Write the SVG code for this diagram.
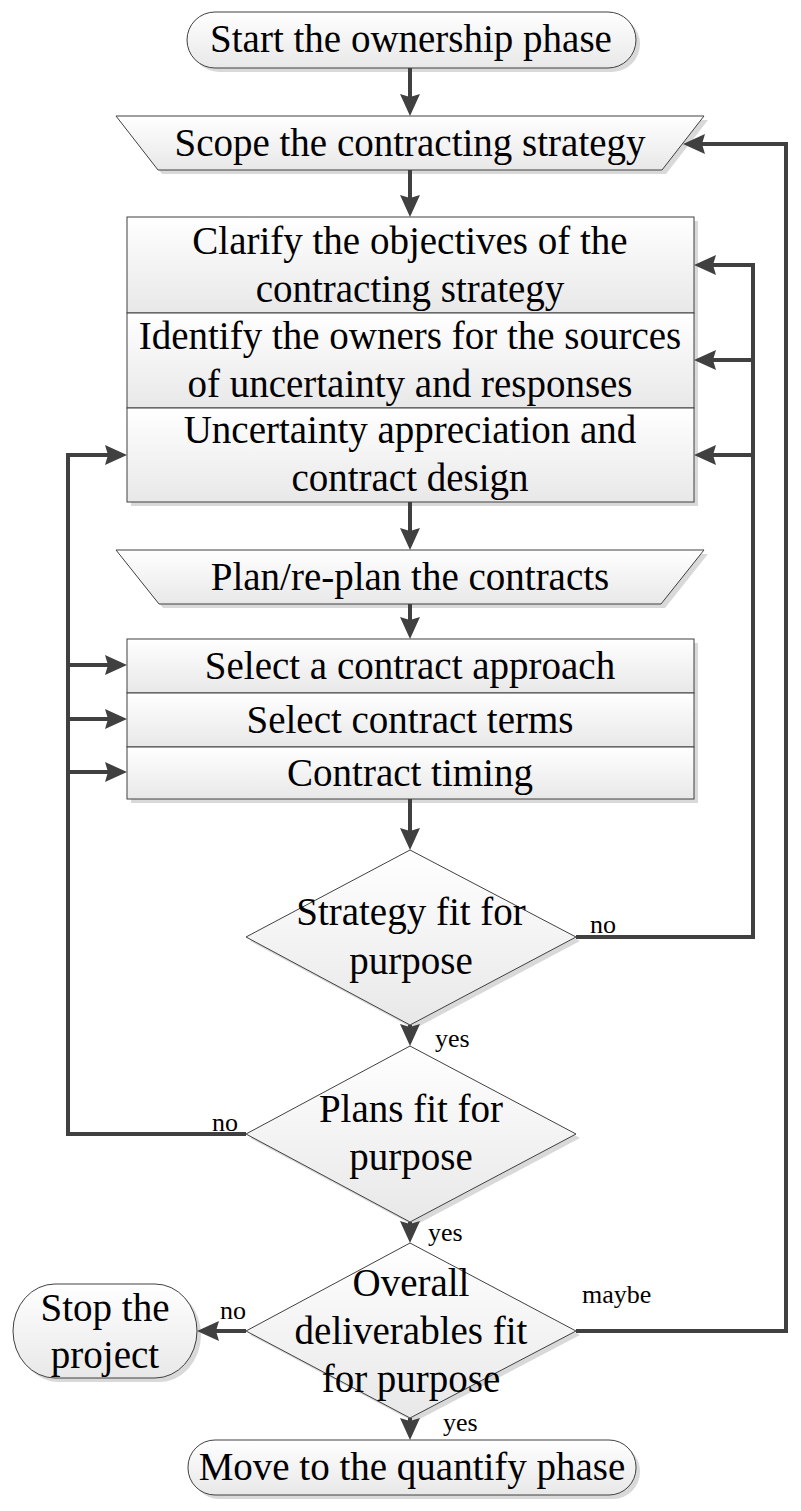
<svg xmlns="http://www.w3.org/2000/svg" width="801" height="1511" viewBox="0 0 801 1511">
<defs>
<linearGradient id="g" x1="0" y1="0" x2="0" y2="1">
<stop offset="0" stop-color="#ffffff"/>
<stop offset="1" stop-color="#e8e8e8"/>
</linearGradient>
<marker id="ah" viewBox="0 0 22 20" refX="12" refY="10" markerWidth="22" markerHeight="20" markerUnits="userSpaceOnUse" orient="auto">
<path d="M0,0 L22,10 L0,20 L3,10 Z" fill="#404040"/>
</marker>
</defs>
<style>
.sh{fill:#d9d9d9;stroke:none}
.nd{fill:url(#g);stroke:#404040;stroke-width:1}
.t{font-family:"Liberation Serif","Times New Roman",serif;font-size:39px;fill:#000;text-anchor:middle}
.l{font-family:"Liberation Serif","Times New Roman",serif;font-size:26px;fill:#000}
.c{fill:none;stroke:#404040;stroke-width:4;stroke-linejoin:miter}
.a{marker-end:url(#ah)}
</style>
<rect width="801" height="1511" fill="#ffffff"/>

<g id="start">
<rect class="sh" x="191" y="16" width="449" height="56" rx="28"/>
<rect class="nd" x="187" y="12" width="449" height="56" rx="28"/>
<text class="t" x="411" y="52">Start the ownership phase</text>
</g>

<g id="scope">
<polygon class="sh" points="120,120 708,120 666,174 162,174"/>
<polygon class="nd" points="116,116 704,116 662,170 158,170"/>
<text class="t" x="410" y="156">Scope the contracting strategy</text>
</g>

<g id="strategy">
<rect class="sh" x="131" y="221" width="567" height="285"/>
<rect class="nd" x="127" y="217" width="567" height="96"/>
<rect class="nd" x="127" y="313" width="567" height="95"/>
<rect class="nd" x="127" y="408" width="567" height="94"/>
<text class="t" x="410" y="254">Clarify the objectives of the</text>
<text class="t" x="410" y="302">contracting strategy</text>
<text class="t" x="410" y="349">Identify the owners for the sources</text>
<text class="t" x="410" y="397">of uncertainty and responses</text>
<text class="t" x="410" y="443">Uncertainty appreciation and</text>
<text class="t" x="410" y="491">contract design</text>
</g>

<g id="plan">
<polygon class="sh" points="120,554 708,554 665,608 163,608"/>
<polygon class="nd" points="116,550 704,550 661,604 159,604"/>
<text class="t" x="410" y="590">Plan/re-plan the contracts</text>
</g>

<g id="contracts">
<rect class="sh" x="131" y="643" width="567" height="160"/>
<rect class="nd" x="127" y="639" width="567" height="54"/>
<rect class="nd" x="127" y="693" width="567" height="54"/>
<rect class="nd" x="127" y="747" width="567" height="52"/>
<text class="t" x="410" y="679">Select a contract approach</text>
<text class="t" x="410" y="733">Select contract terms</text>
<text class="t" x="410" y="786">Contract timing</text>
</g>

<g id="strategyfit">
<polygon class="sh" points="414,854 580,941 414,1029 250,941"/>
<polygon class="nd" points="410,850 576,937 410,1025 246,937"/>
<text class="t" x="411" y="925">Strategy fit for</text>
<text class="t" x="411" y="974">purpose</text>
</g>

<g id="plansfit">
<polygon class="sh" points="414,1050 580,1138 414,1226 250,1138"/>
<polygon class="nd" points="410,1046 576,1134 410,1222 246,1134"/>
<text class="t" x="411" y="1122">Plans fit for</text>
<text class="t" x="411" y="1170">purpose</text>
</g>

<g id="overallfit">
<polygon class="sh" points="414,1247 580,1335 414,1422 250,1335"/>
<polygon class="nd" points="410,1243 576,1331 410,1418 246,1331"/>
<text class="t" x="411" y="1296">Overall</text>
<text class="t" x="411" y="1344">deliverables fit</text>
<text class="t" x="411" y="1392">for purpose</text>
</g>

<g id="stop">
<rect class="sh" x="17" y="1288" width="184" height="94" rx="42" ry="47"/>
<rect class="nd" x="13" y="1284" width="184" height="94" rx="42" ry="47"/>
<text class="t" x="105" y="1321">Stop the</text>
<text class="t" x="105" y="1368">project</text>
</g>

<g id="end">
<rect class="sh" x="192" y="1444" width="448" height="55" rx="27"/>
<rect class="nd" x="188" y="1440" width="448" height="55" rx="27"/>
<text class="t" x="412" y="1480">Move to the quantify phase</text>
</g>

<g id="connectors">
<path class="c a" d="M410,68 V106"/>
<path class="c a" d="M410,170 V207"/>
<path class="c a" d="M410,502 V540"/>
<path class="c a" d="M410,604 V629"/>
<path class="c a" d="M410,799 V840"/>
<path class="c a" d="M410,1025 V1036"/>
<path class="c a" d="M410,1222 V1233"/>
<path class="c a" d="M410,1418 V1430"/>
<path class="c a" d="M576,1331 H786 V144 H693"/>
<path class="c a" d="M576,937 H753 V265 H704"/>
<path class="c a" d="M753,360 H704"/>
<path class="c a" d="M753,455 H704"/>
<path class="c a" d="M246,1134 H68 V455 H117"/>
<path class="c a" d="M68,665 H117"/>
<path class="c a" d="M68,719 H117"/>
<path class="c a" d="M68,772 H117"/>
<path class="c a" d="M246,1331 H207"/>
<text class="l" x="590" y="933">no</text>
<text class="l" x="435" y="1047">yes</text>
<text class="l" x="212" y="1131">no</text>
<text class="l" x="428" y="1241">yes</text>
<text class="l" x="582" y="1303">maybe</text>
<text class="l" x="220" y="1319">no</text>
<text class="l" x="443" y="1431">yes</text>
</g>
</svg>
